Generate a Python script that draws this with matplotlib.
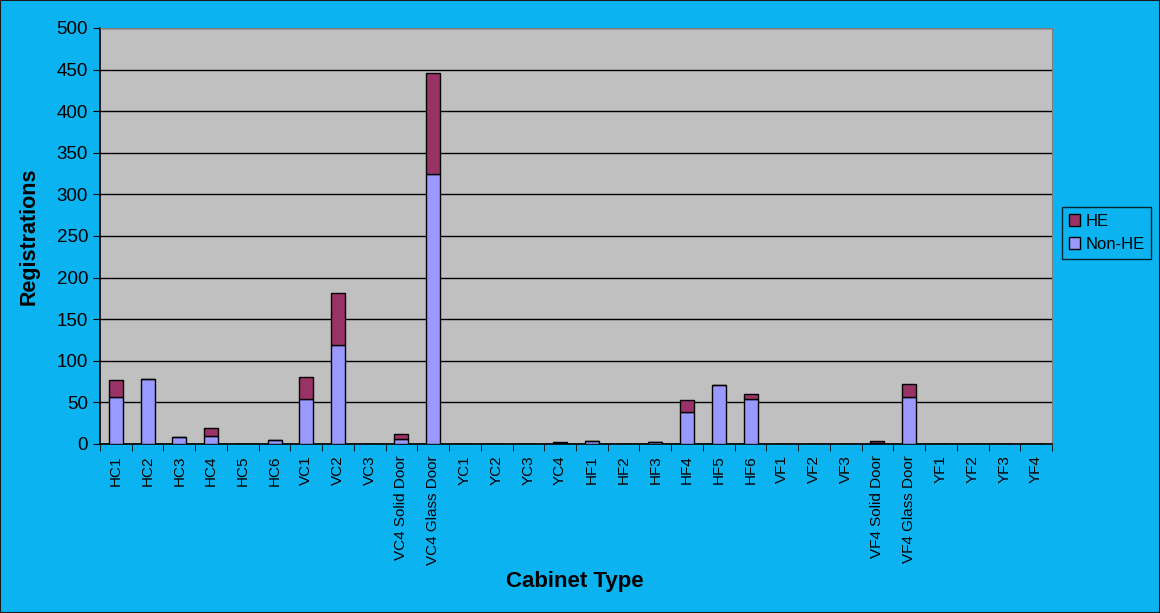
import numpy as np
import matplotlib
matplotlib.use("Agg")
import matplotlib.pyplot as plt
from matplotlib.patches import Rectangle

plt.rcParams["font.family"] = ["Liberation Sans", "DejaVu Sans"]

cabinets = ["HC1", "HC2", "HC3", "HC4", "HC5", "HC6",
            "VC1", "VC2", "VC3", "VC4 Solid Door", "VC4 Glass Door",
            "YC1", "YC2", "YC3", "YC4",
            "HF1", "HF2", "HF3", "HF4", "HF5", "HF6",
            "VF1", "VF2", "VF3", "VF4 Solid Door", "VF4 Glass Door",
            "YF1", "YF2", "YF3", "YF4"]
non_he = [57, 78, 8, 10, 0, 5,
          54, 119, 0, 6, 325,
          0, 0, 0, 1,
          4, 0, 3, 39, 71, 54,
          0, 0, 0, 1, 56,
          0, 0, 0, 0]
he = [20, 0, 0, 9, 0, 0,
      27, 63, 0, 6, 121,
      0, 0, 0, 1,
      0, 0, 0, 14, 0, 6,
      0, 0, 0, 3, 16,
      0, 0, 0, 0]

bg = "#0BB4F0"
fig = plt.figure(figsize=(11.6, 6.13), dpi=100, facecolor=bg)
fig.patches.append(Rectangle((0, 0), 1, 1, transform=fig.transFigure,
                             fill=False, edgecolor="#1a1a1a", linewidth=1.5))
ax = fig.add_axes([100 / 1160, 1 - 444 / 613, 952 / 1160, 416 / 613])
ax.set_facecolor("#C0C0C0")

x = np.arange(len(cabinets))
w = 0.44
ax.bar(x, non_he, w, color="#9999FF", edgecolor="black", linewidth=1, label="Non-HE", zorder=3)
ax.bar(x, he, w, bottom=non_he, color="#993366", edgecolor="black", linewidth=1, label="HE", zorder=3)

ax.set_xlim(-0.5, len(cabinets) - 0.5)
ax.set_ylim(0, 500)
ax.set_yticks(np.arange(0, 501, 50))
ax.yaxis.grid(True, color="black", linewidth=1)
ax.set_axisbelow(True)

ax.set_xticks(x)
ax.set_xticklabels(cabinets, rotation=90, fontsize=11)
ax.set_xticks(np.arange(-0.5, len(cabinets)), minor=True)
ax.tick_params(axis="x", which="major", length=0, pad=8)
ax.tick_params(axis="x", which="minor", length=5, direction="out", color="black")
ax.tick_params(axis="y", labelsize=13.5, length=5, direction="out")

for side in ["top", "right"]:
    ax.spines[side].set_color("#808080")
for side in ["left", "bottom"]:
    ax.spines[side].set_color("black")
    ax.spines[side].set_linewidth(1.2)

ax.set_ylabel("Registrations", fontsize=15.5, fontweight="bold", labelpad=12)
fig.text(575 / 1160, 1 - 582 / 613, "Cabinet Type", fontsize=16, fontweight="bold",
         ha="center", va="center")

handles, labels = ax.get_legend_handles_labels()
leg = fig.legend(handles[::-1], labels[::-1], loc="upper left",
                 bbox_to_anchor=(1062 / 1160, 1 - 207 / 613), fontsize=12,
                 frameon=True, fancybox=False, edgecolor="black", facecolor=bg,
                 handlelength=0.7, handleheight=0.7, handletextpad=0.3,
                 borderpad=0.4, labelspacing=0.5, borderaxespad=0)
leg.get_frame().set_linewidth(1)

fig.savefig("out.png", dpi=100, facecolor=bg)
